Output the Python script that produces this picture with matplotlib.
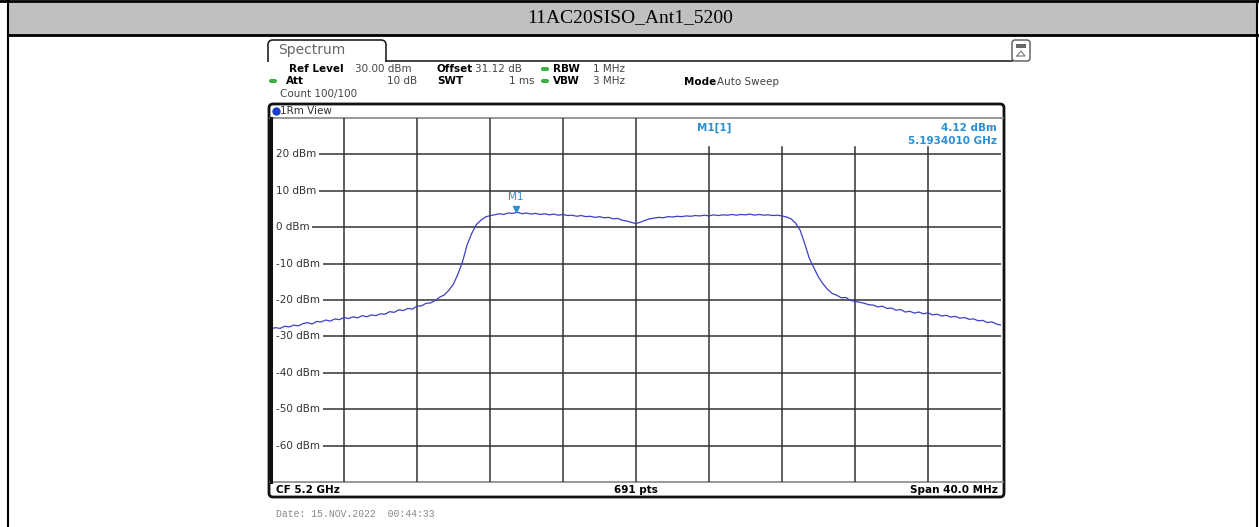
import numpy as np
import matplotlib
matplotlib.use("Agg")
import matplotlib.pyplot as plt
from matplotlib.patches import FancyBboxPatch, Rectangle

# trace levels (dBm), 0.25 MHz steps from -20 MHz to +20 MHz around 5.2 GHz
levels = [
    -27.9, -27.6, -27.8, -27.2, -27.4, -26.9, -27.1, -26.5, -26.2, -26.6,
    -25.9, -26.0, -25.5, -25.8, -25.2, -25.4, -24.8, -25.1, -24.6, -24.9,
    -24.3, -24.6, -24.1, -24.3, -23.8, -23.9, -23.2, -23.4, -22.7, -22.9,
    -22.3, -22.5, -21.7, -21.6, -20.9, -20.8, -20.1, -19.2, -18.6, -17.3,
    -15.6, -12.8, -9.4, -4.8, -1.7, 0.7, 1.9, 2.8, 3.2, 3.4,
    3.7, 3.5, 3.9, 3.8, 4.1, 3.7, 3.9, 3.6, 3.8, 3.5,
    3.7, 3.4, 3.6, 3.3, 3.5, 3.2, 3.3, 3.0, 3.2, 2.9,
    3.0, 2.7, 2.9, 2.6, 2.7, 2.3, 2.4, 1.9, 1.7, 1.3,
    1.0, 1.4, 1.9, 2.3, 2.5, 2.7, 2.6, 2.9, 2.8, 3.0,
    2.9, 3.1, 3.0, 3.2, 3.1, 3.3, 3.1, 3.4, 3.2, 3.4,
    3.3, 3.5, 3.3, 3.5, 3.4, 3.6, 3.3, 3.5, 3.3, 3.4,
    3.2, 3.3, 3.1, 2.8, 2.3, 1.1, -0.9, -4.6, -8.6, -11.2,
    -13.7, -15.6, -17.1, -18.2, -18.7, -19.4, -19.3, -20.1, -20.4, -20.6,
    -20.9, -21.3, -21.4, -21.9, -21.7, -22.3, -22.2, -22.8, -22.6, -23.3,
    -23.1, -23.6, -23.3, -23.8, -23.5, -24.1, -23.9, -24.4, -24.2, -24.7,
    -24.5, -25.0, -24.8, -25.3, -25.2, -25.7, -25.6, -26.2, -26.0, -26.6,
    -26.9,
]
freq = np.linspace(-20, 20, len(levels))  # MHz offset from CF

y_ticks = [20, 10, 0, -10, -20, -30, -40, -50, -60]
x_grid = [-16, -12, -8, -4, 0, 4, 8, 12, 16]
marker_f = -6.6
marker_lvl = 4.12

title = "11AC20SISO_Ant1_5200"
W, H = 1259, 527

fig = plt.figure(figsize=(W / 100, H / 100), dpi=100)
bg = fig.add_axes([0, 0, 1, 1])
bg.set_xlim(0, W)
bg.set_ylim(H, 0)
bg.axis("off")

# table frame and title band
bg.add_patch(Rectangle((8, 1), W - 10, 34, fc="#c0c0c0", ec="none"))
bg.plot([0, W], [1, 1], color="black", lw=2)
bg.plot([8, W], [35, 35], color="black", lw=2)
bg.plot([8, 8], [0, H], color="black", lw=1.5)
bg.plot([W - 2, W - 2], [0, H], color="black", lw=1.5)
bg.text(630, 18, title, family="Liberation Serif", fontsize=14, ha="center", va="center")

# spectrum tab (clipped so it opens into the line below) + icon
tab = FancyBboxPatch((268, 40), 118, 40, boxstyle="round,pad=0,rounding_size=5",
                     fc="white", ec="#222222", lw=1.2)
bg.add_patch(tab)
clip = Rectangle((260, 30), 140, 31.5, transform=bg.transData)
tab.set_clip_path(clip)
bg.plot([386, 1012], [61, 61], color="#222222", lw=1.2)
bg.text(278, 50, "Spectrum", fontsize=10, color="#666666", va="center")
bg.add_patch(FancyBboxPatch((1012, 40), 18, 21, boxstyle="round,pad=0,rounding_size=3",
                            fc="white", ec="#555555", lw=1))
bg.add_patch(Rectangle((1016, 44), 10, 3.5, fc="#666666", ec="none"))
bg.plot([1017, 1021, 1025, 1017], [56, 51, 56, 56], color="#777777", lw=0.8)

# header settings
small = 7.5
bg.text(289, 69, "Ref Level", fontsize=small, fontweight="bold", va="center")
bg.text(355, 69, "30.00 dBm", fontsize=small, color="#444444", va="center")
bg.text(437, 69, "Offset", fontsize=small, fontweight="bold", va="center")
bg.text(475, 69, "31.12 dB", fontsize=small, color="#444444", va="center")
bg.text(553, 69, "RBW", fontsize=small, fontweight="bold", va="center")
bg.text(593, 69, "1 MHz", fontsize=small, color="#444444", va="center")
bg.text(286, 81, "Att", fontsize=small, fontweight="bold", va="center")
bg.text(417, 81, "10 dB", fontsize=small, color="#444444", va="center", ha="right")
bg.text(437, 81, "SWT", fontsize=small, fontweight="bold", va="center")
bg.text(535, 81, "1 ms", fontsize=small, color="#444444", va="center", ha="right")
bg.text(553, 81, "VBW", fontsize=small, fontweight="bold", va="center")
bg.text(593, 81, "3 MHz", fontsize=small, color="#444444", va="center")
bg.text(684, 82, "Mode", fontsize=small, fontweight="bold", va="center")
bg.text(717, 82, "Auto Sweep", fontsize=small, color="#444444", va="center")
bg.text(280, 94, "Count 100/100", fontsize=small, color="#444444", va="center")
for (dx, dy) in [(545, 69), (545, 81), (273, 81)]:
    bg.add_patch(FancyBboxPatch((dx - 4, dy - 2), 8, 4, boxstyle="round,pad=0,rounding_size=2",
                                fc="#3cb043", ec="none"))

# instrument display box
bg.add_patch(FancyBboxPatch((269, 104), 735, 393, boxstyle="round,pad=0,rounding_size=4",
                            fc="white", ec="#111111", lw=2))
bg.plot([270, 1003], [118, 118], color="#888888", lw=1.2)
bg.plot([270, 1003], [482, 482], color="#888888", lw=1.2)
bg.plot(276, 111, "o", color="#1a3fd0", ms=5)
bg.text(280, 111, "1Rm View", fontsize=small, color="#333333", va="center")
bg.text(276, 490, "CF 5.2 GHz", fontsize=small, fontweight="bold", va="center")
bg.text(636, 490, "691 pts", fontsize=small, fontweight="bold", va="center", ha="center")
bg.text(998, 490, "Span 40.0 MHz", fontsize=small, fontweight="bold", va="center", ha="right")
bg.text(276, 514, "Date: 15.NOV.2022  00:44:33", family="Liberation Mono",
        fontsize=7, color="#888888", va="center")

# spectrum plot
ax = fig.add_axes([271 / W, (H - 482) / H, 730 / W, 364 / H])
ax.set_xlim(-20, 20)
ax.set_ylim(-70, 30)
ax.set_xticks([])
ax.set_yticks([])
for s in ax.spines.values():
    s.set_visible(False)
ax.patch.set_alpha(0)

grid_c = "#333333"
for f in x_grid:
    top = 22.0 if f >= 4 else 30
    ax.plot([f, f], [-70, top], color=grid_c, lw=1.1, zorder=1)
for lv in y_ticks:
    ax.plot([-20, 20], [lv, lv], color=grid_c, lw=1.1, zorder=1)
    ax.text(-19.75, lv, f"{lv} dBm", fontsize=small, color="#333333", va="center",
            bbox=dict(fc="white", ec="none", pad=2.2), zorder=2)

ax.plot(freq, levels, color="#3f3fc4", lw=0.9, zorder=3)

mcol = "#2a8fd4"
ax.plot(marker_f, marker_lvl + 0.9, "v", color=mcol, ms=5, zorder=4)
ax.text(marker_f, marker_lvl + 2.8, "M1", fontsize=small, color=mcol, ha="center", va="bottom")
ax.text(4.3, 27.2, "M1[1]", fontsize=small, color=mcol, fontweight="bold", ha="center", va="center")
ax.text(19.8, 27.2, f"{marker_lvl:.2f} dBm", fontsize=small, color=mcol,
        fontweight="bold", ha="right", va="center")
ax.text(19.8, 23.6, "5.1934010 GHz", fontsize=small, color=mcol,
        fontweight="bold", ha="right", va="center")

# thick left edge of plot, drawn over the label boxes
ax.plot([-20, -20], [-70, 30], color="#111111", lw=2.2, zorder=6, clip_on=False)

fig.savefig("out.png", dpi=100)
